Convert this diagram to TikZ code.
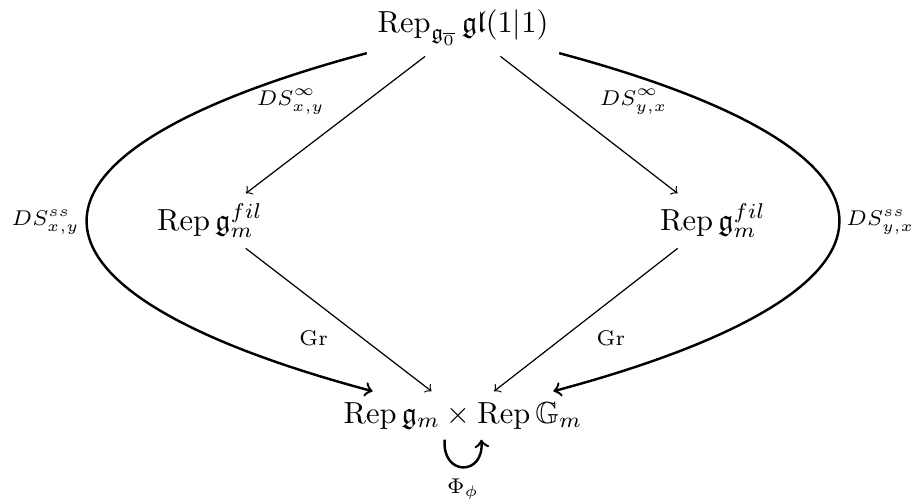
\documentclass[tikz,border=0pt]{standalone}
\usepackage{amsmath, amssymb}
\usepackage{tikz}

\begin{document}
\begin{tikzpicture}[x=0.328pt, y=-0.328pt]
    \useasboundingbox (0,0) rectangle (916,503);
    \tikzset{lbl/.style={font=\scriptsize}}
    \node[anchor=base] (top) at (463,32) {$\operatorname{Rep}_{\mathfrak{g}_{\overline{0}}}\mathfrak{gl}(1|1)$};
    \node[anchor=base] (fl) at (210,230) {$\operatorname{Rep}\mathfrak{g}_m^{fil}$};
    \node[anchor=base] (fr) at (713,230) {$\operatorname{Rep}\mathfrak{g}_m^{fil}$};
    \node[anchor=base] (bot) at (463,423) {$\operatorname{Rep}\mathfrak{g}_m\times\operatorname{Rep}\mathbb{G}_m$};
    \draw[->] (top) -- (fl) node[lbl, midway, above left] {$DS^\infty_{x,y}$};
    \draw[->] (top) -- (fr) node[lbl, midway, above right] {$DS^\infty_{y,x}$};
    \draw[->] (fl) -- (bot) node[lbl, midway, below left] {$\mathrm{Gr}$};
    \draw[->] (fr) -- (bot) node[lbl, midway, below right] {$\mathrm{Gr}$};
    \draw[->, thick] (top) to[out=195, in=165, looseness=2.95] node[lbl, inner sep=2pt, midway, left] {$DS^{ss}_{x,y}$} (bot);
    \draw[->, thick] (top) to[out=-15, in=15, looseness=2.95] node[lbl, inner sep=2pt, midway, right] {$DS^{ss}_{y,x}$} (bot);
    \draw[->, thick] ([xshift=-6pt]bot.south) .. controls +(-1pt,-12pt) and +(1pt,-12pt) .. ([xshift=6pt]bot.south) node[lbl, pos=0.5, below] {$\Phi_\phi$};
\end{tikzpicture}
\end{document}
